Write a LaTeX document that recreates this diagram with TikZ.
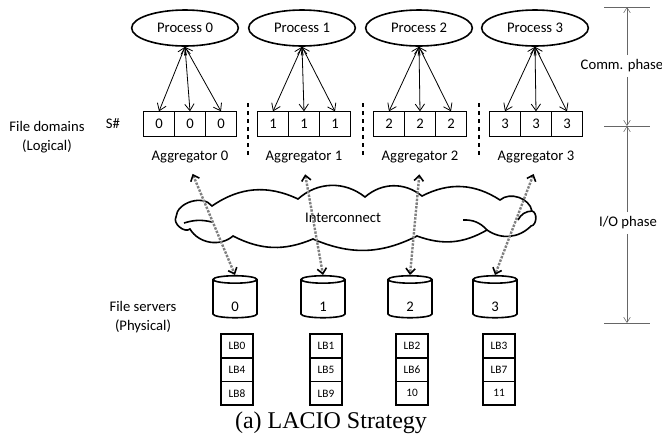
\documentclass[tikz,border=0pt]{standalone}
\usepackage{fontspec}
\setmainfont{Carlito}
\newfontfamily\captionfont{Liberation Serif}
\usetikzlibrary{shapes.geometric,arrows.meta,positioning}

\tikzset{
  proc/.style={ellipse,draw,line width=1.2pt,minimum width=80pt,minimum height=27pt,inner sep=0pt},
  fdcell/.style={draw,line width=1.2pt,minimum width=23.25pt,minimum height=19pt,inner sep=0pt,outer sep=0pt},
  lbcell/.style={draw,line width=1.2pt,minimum width=24pt,minimum height=17.75pt,inner sep=0pt,outer sep=0pt,font=\fontsize{8.5}{10}\selectfont},
  disk/.style={cylinder,shape border rotate=90,draw,line width=1.2pt,aspect=1,minimum width=33pt,minimum height=31.5pt,inner sep=0pt,text height=19pt,text depth=0pt},
  fan/.style={semithick,{Straight Barb[length=5pt,width=7pt]}-{Straight Barb[length=5pt,width=7pt]}},
  iolink/.style={{Straight Barb[length=4pt,width=7pt,line width=1.2pt,black]}-{Straight Barb[length=4pt,width=7pt,line width=1.2pt,black]},gray,line width=1.8pt,densely dotted,shorten <=5pt},
  phase/.style={gray!80!black,-{Straight Barb[length=4pt,width=5pt]}},
  tick/.style={gray!80!black},
  cloudline/.style={line width=1.2pt}
}

\begin{document}
\begin{tikzpicture}[x=0.75pt,y=-0.75pt,font=\fontsize{11}{14}\selectfont]
  \useasboundingbox (0,0) rectangle (662,437);

  % processes, file domains, aggregators
  \foreach \i/\px/\fx in {0/185/190,1/302/304,2/419/420,3/535/536}{
    \node[proc] (p\i) at (\px,28) {Process \i};
    \node[fdcell] (fd\i-2) at (\fx,124) {\i};
    \node[fdcell,left=0pt of fd\i-2] (fd\i-1) {\i};
    \node[fdcell,right=0pt of fd\i-2] (fd\i-3) {\i};
    \node (agg\i) at (\fx,157) {Aggregator \i};
    \foreach \j in {1,2,3}
      \draw[fan] (p\i.south) -- (fd\i-\j.north);
  }
  \foreach \x in {248,363,479}
    \draw[dashed,thick] (\x,103) -- (\x,157);

  \node[align=center] (fdlabel) at (47,137) {File domains\\(Logical)};
  \node (snum) at (113,124) {S\#};

  % network cloud
  \draw[cloudline] (176,217) to[bend left=70] (212,206) to[bend left=30] (298,199)
    to[bend left=40] (365,197) to[bend left=40] (422,196) to[bend left=30] (500,200)
    to[bend left=60] (532,211) to[bend left=80] (531,226) to[bend left=40] (487,230)
    to[bend left=25] (417,236) to[bend left=25] (313,239) to[bend left=25] (233,236)
    to[bend left=50] (190,229) to[bend left=80] cycle;
  \draw[cloudline] (184,223) to[bend left=15] (212,222);
  \draw[cloudline] (463,220) to[bend left=25] (487,230);
  \draw[cloudline] (518,220) to[bend left=30] (532,211);
  \node (net) at (343,218) {Interconnect};

  % file servers
  \node[align=center] (fslabel) at (143,317) {File servers\\(Physical)};
  \foreach \i/\dx in {0/235,1/323,2/410,3/495}{
    \node[disk] (disk\i) at (\dx,299) {\i};
    \draw[iolink] (agg\i.south) -- (disk\i.north);
  }
  \foreach \i/\sx/\a/\b/\c in {0/237/LB0/LB4/LB8,1/326/LB1/LB5/LB9,2/412/LB2/LB6/10,3/499/LB3/LB7/11}{
    \node[lbcell] (lb\i-1) at (\sx,346) {\a};
    \node[lbcell,below=0pt of lb\i-1] (lb\i-2) {\b};
    \node[lbcell,below=0pt of lb\i-2] (lb\i-3) {\c};
  }

  % phase scale
  \coordinate (tA) at (627,7);
  \coordinate (tB) at (627,126);
  \coordinate (tC) at (627,323);
  \foreach \t in {tA,tB,tC}
    \draw[tick] ([xshift=-17.25pt]\t) -- ([xshift=17.25pt]\t);
  \node (comm) at (622,66) {Comm. phase};
  \node (iophase) at (628,223) {I/O phase};
  \draw[phase] (comm.north -| tA) -- (tA);
  \draw[phase] (comm.south -| tB) -- (tB);
  \draw[phase] (iophase.north -| tB) -- (tB);
  \draw[phase] (iophase.south -| tC) -- (tC);

  \node[font=\captionfont\fontsize{18}{20}\selectfont,anchor=base] (caption) at (331,428) {(a) LACIO Strategy};
\end{tikzpicture}
\end{document}
